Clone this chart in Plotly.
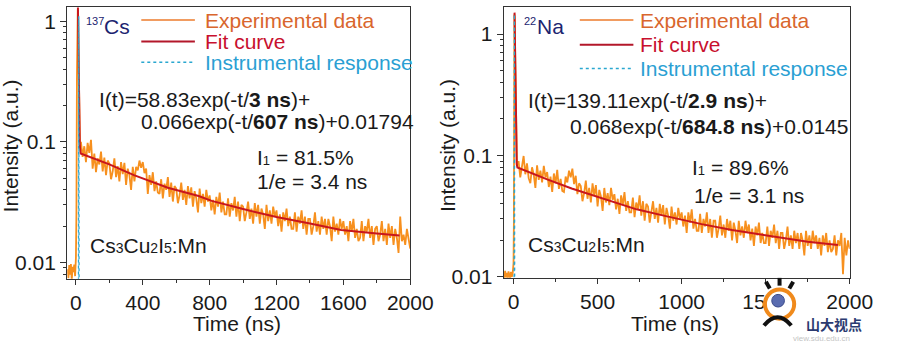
import plotly.graph_objects as go

# ---------------- data ----------------
# Panel A: 137Cs excitation
cs_t_pre = [-50, -45, -40, -35, -30, -25, -20, -15, -10, -5]
cs_y_pre = [0.0088, 0.0074, 0.0095, 0.0079, 0.0097, 0.0071, 0.0092, 0.0083, 0.0096, 0.0077]
cs_t_spike = [0, 3, 6, 9, 11, 13, 15, 17, 19, 21, 24, 27]
cs_y_spike = [0.011, 0.026, 0.35, 1.05, 1.25, 1.1, 0.6, 0.33, 0.19, 0.125, 0.095, 0.09]
# decay part, one value every 10 ns starting at 30 ns
cs_decay = [
    0.100, 0.075, 0.092, 0.068, 0.098, 0.081, 0.104,
    0.060, 0.080, 0.056, 0.073, 0.065, 0.083, 0.057, 0.074, 0.053, 0.070,
    0.066, 0.049, 0.057, 0.073, 0.051, 0.063, 0.047, 0.068, 0.054, 0.067,
    0.044, 0.060, 0.053, 0.040, 0.062, 0.047, 0.062, 0.058, 0.070, 0.061,
    0.068, 0.055, 0.060, 0.037, 0.053, 0.044, 0.056, 0.039, 0.047, 0.038,
    0.037, 0.049, 0.034, 0.045, 0.040, 0.051, 0.035, 0.046, 0.032, 0.043,
    0.041, 0.031, 0.036, 0.046, 0.033, 0.040, 0.030, 0.043, 0.034, 0.042,
    0.029, 0.039, 0.034, 0.026, 0.041, 0.031, 0.037, 0.029, 0.040, 0.032,
    0.036, 0.027, 0.033, 0.025, 0.035, 0.029, 0.038, 0.026, 0.032, 0.025,
    0.025, 0.034, 0.024, 0.031, 0.027, 0.035, 0.024, 0.032, 0.022, 0.030,
    0.029, 0.022, 0.026, 0.032, 0.023, 0.028, 0.021, 0.031, 0.024, 0.030,
    0.021, 0.028, 0.025, 0.019, 0.030, 0.022, 0.027, 0.021, 0.029, 0.024,
    0.027, 0.020, 0.025, 0.018, 0.026, 0.022, 0.028, 0.020, 0.024, 0.019,
    0.019, 0.026, 0.018, 0.024, 0.021, 0.027, 0.019, 0.024, 0.017, 0.023,
    0.023, 0.017, 0.020, 0.026, 0.018, 0.022, 0.017, 0.024, 0.019, 0.023,
    0.017, 0.023, 0.020, 0.015, 0.024, 0.018, 0.021, 0.017, 0.023, 0.019,
    0.022, 0.017, 0.020, 0.015, 0.022, 0.018, 0.023, 0.016, 0.019, 0.015,
    0.016, 0.022, 0.015, 0.020, 0.018, 0.023, 0.016, 0.020, 0.014, 0.019,
    0.020, 0.015, 0.017, 0.022, 0.015, 0.019, 0.014, 0.021, 0.016, 0.020,
    0.014, 0.019, 0.016, 0.012, 0.024, 0.015, 0.017, 0.014, 0.019, 0.015, 0.013,
]
cs_fit_t = [12, 14, 16, 18, 20, 23, 28, 100, 200, 347, 424, 550, 734, 812, 1000, 1122, 1200, 1400, 1587, 1800, 1936]
cs_fit_y = [1.3, 0.72, 0.4, 0.22, 0.135, 0.095, 0.08, 0.073, 0.065, 0.053, 0.0485, 0.0416, 0.0356, 0.0324,
            0.0277, 0.0252, 0.0238, 0.021, 0.0186, 0.0174, 0.0167]
cs_irf_t = [15, 17, 19]
cs_irf_y = [0.004, 1.1, 0.004]

# Panel B: 22Na excitation
na_t_pre = [-60, -55, -50, -45, -40, -35, -30, -25, -20, -15, -10, -5]
na_y_pre = [0.0105, 0.0096, 0.0112, 0.0099, 0.0108, 0.0094, 0.0111, 0.0101, 0.0097, 0.0110, 0.0100, 0.0107]
na_t_spike = [0, 2, 4, 5, 7, 9, 11, 13, 15, 17, 20, 25]
na_y_spike = [0.013, 0.028, 0.6, 1.45, 1.35, 0.8, 0.42, 0.23, 0.14, 0.1, 0.088, 0.084]
na_decay = [
    0.090, 0.066, 0.078, 0.099, 0.070, 0.086, 0.065,
    0.059, 0.080, 0.070, 0.054, 0.083, 0.063, 0.075, 0.060, 0.082, 0.066,
    0.073, 0.055, 0.067, 0.050, 0.071, 0.059, 0.076, 0.053, 0.064, 0.051,
    0.050, 0.067, 0.060, 0.075, 0.066, 0.078, 0.058, 0.068, 0.048, 0.059,
    0.056, 0.042, 0.049, 0.062, 0.044, 0.054, 0.041, 0.059, 0.047, 0.057,
    0.038, 0.052, 0.046, 0.035, 0.054, 0.041, 0.049, 0.039, 0.054, 0.043,
    0.048, 0.036, 0.044, 0.033, 0.047, 0.039, 0.050, 0.035, 0.042, 0.034,
    0.034, 0.045, 0.031, 0.041, 0.036, 0.047, 0.032, 0.042, 0.029, 0.040,
    0.038, 0.028, 0.034, 0.042, 0.030, 0.037, 0.028, 0.040, 0.032, 0.039,
    0.027, 0.037, 0.032, 0.025, 0.038, 0.029, 0.034, 0.027, 0.037, 0.030,
    0.034, 0.026, 0.032, 0.023, 0.034, 0.028, 0.036, 0.025, 0.030, 0.024,
    0.024, 0.033, 0.023, 0.030, 0.026, 0.034, 0.023, 0.030, 0.021, 0.029,
    0.029, 0.021, 0.025, 0.032, 0.022, 0.027, 0.021, 0.030, 0.024, 0.029,
    0.020, 0.028, 0.024, 0.019, 0.029, 0.022, 0.026, 0.021, 0.029, 0.023,
    0.027, 0.020, 0.025, 0.018, 0.026, 0.022, 0.028, 0.019, 0.023, 0.019,
    0.019, 0.026, 0.018, 0.024, 0.021, 0.027, 0.019, 0.024, 0.017, 0.023,
    0.023, 0.017, 0.020, 0.026, 0.018, 0.022, 0.017, 0.024, 0.019, 0.023,
    0.017, 0.023, 0.020, 0.015, 0.024, 0.018, 0.022, 0.017, 0.024, 0.019,
    0.022, 0.017, 0.021, 0.015, 0.022, 0.018, 0.023, 0.016, 0.020, 0.016,
    0.017, 0.022, 0.015, 0.020, 0.018, 0.023, 0.0105, 0.021, 0.015, 0.020, 0.017,
]
na_fit_t = [6, 8, 10, 12, 14, 16, 19, 23, 100, 200, 346, 500, 732, 900, 1119, 1300, 1583, 1750, 1930]
na_fit_y = [1.5, 0.85, 0.45, 0.25, 0.15, 0.105, 0.085, 0.0795, 0.072, 0.0635, 0.0535, 0.0458, 0.036,
            0.0318, 0.0272, 0.0243, 0.021, 0.0195, 0.0183]
na_irf_t = [3, 5, 7]
na_irf_y = [0.004, 1.45, 0.004]

cs_xticks = [0, 400, 800, 1200, 1600, 2000]
cs_xminor = [200, 600, 1000, 1400, 1800]
na_xticks = [0, 500, 1000, 1500, 2000]
na_xminor = [250, 750, 1250, 1750]
y_major = [0.01, 0.1, 1]
y_major_text = ["0.01", "0.1", "1"]
y_minor = [m * d for d in (0.001, 0.01, 0.1) for m in range(2, 10)]

# ---------------- styling ----------------
W, H = 900, 352
FONT = "Liberation Sans, Arial, sans-serif"
FS = 21
C_EXP = "#f7901e"
C_FIT = "#c8161d"
C_IRF = "#2aa7d0"
C_AX = "#333333"


def px(x):
    return x / W


def py(y):
    return 1 - y / H


def decay_times(vals):
    return [30 + 10 * i for i in range(len(vals))]


fig = go.Figure()

panels = [
    (cs_t_pre, cs_y_pre, cs_t_spike, cs_y_spike, cs_decay, cs_fit_t, cs_fit_y, cs_irf_t, cs_irf_y, "x", "y"),
    (na_t_pre, na_y_pre, na_t_spike, na_y_spike, na_decay, na_fit_t, na_fit_y, na_irf_t, na_irf_y, "x2", "y2"),
]
for (tp, yp, ts, ys, yd, ft, fy, it, iy, xa, ya) in panels:
    t_all = tp + ts + decay_times(yd)
    y_all = yp + ys + yd
    fig.add_trace(go.Scatter(x=t_all, y=y_all, mode="lines", line=dict(color=C_EXP, width=1.8),
                             name="Experimental data", showlegend=False, xaxis=xa, yaxis=ya))
    fig.add_trace(go.Scatter(x=ft, y=fy, mode="lines", line=dict(color=C_FIT, width=2),
                             name="Fit curve", showlegend=False, xaxis=xa, yaxis=ya))
    fig.add_trace(go.Scatter(x=it, y=iy, mode="lines", line=dict(color=C_IRF, width=1.3, dash="dot"),
                             name="Instrumental response", showlegend=False, xaxis=xa, yaxis=ya))

common_x = dict(showline=True, mirror=True, linecolor=C_AX, linewidth=1.3, showgrid=False, zeroline=False,
                ticks="outside", ticklen=5, tickwidth=1.2, tickcolor=C_AX,
                tickfont=dict(family=FONT, size=FS, color="#1a1a1a"), tickmode="array")
common_y = dict(type="log", showline=True, mirror=True, linecolor=C_AX, linewidth=1.3, showgrid=False,
                zeroline=False, ticks="outside", ticklen=6, tickwidth=1.2, tickcolor=C_AX,
                tickfont=dict(family=FONT, size=FS, color="#1a1a1a"), tickmode="array",
                tickvals=y_major, ticktext=y_major_text,
                minor=dict(tickmode="array", tickvals=y_minor, ticks="outside", ticklen=3, tickwidth=1,
                           tickcolor=C_AX, showgrid=False))

fig.update_layout(
    width=W, height=H, margin=dict(l=0, r=0, t=0, b=0), autosize=False,
    paper_bgcolor="white", plot_bgcolor="white",
    xaxis=dict(common_x, domain=[px(69), px(421)], range=[-52, 2000], anchor="y",
               tickvals=cs_xticks,
               minor=dict(tickmode="array", tickvals=cs_xminor, ticks="outside", ticklen=3, tickwidth=1,
                          tickcolor=C_AX, showgrid=False)),
    yaxis=dict(common_y, domain=[py(287), py(7)], range=[-2.136, 0.12], anchor="x"),
    xaxis2=dict(common_x, domain=[px(517), px(872)], range=[-58, 2000], anchor="y2",
                tickvals=na_xticks,
                minor=dict(tickmode="array", tickvals=na_xminor, ticks="outside", ticklen=3, tickwidth=1,
                           tickcolor=C_AX, showgrid=False)),
    yaxis2=dict(common_y, domain=[py(286), py(7)], range=[-2.008, 0.224], anchor="x2"),
)

annotations = []
shapes = []


def ann(x, y, text, size=FS, color="#1a1a1a", xanchor="left", angle=0, family=FONT):
    annotations.append(dict(x=px(x), y=py(y), xref="paper", yref="paper", text=text, showarrow=False,
                            xanchor=xanchor, yanchor="middle", textangle=angle,
                            font=dict(family=family, size=size, color=color)))


# axis titles
ann(11, 150, "Intensity (a.u.)", xanchor="center", angle=-90)
ann(459, 150, "Intensity (a.u.)", xanchor="center", angle=-90)
ann(243, 333, "Time (ns)", xanchor="center")
ann(693, 333, "Time (ns)", xanchor="center")

# source labels
NAVY = "#1c2470"
ann(86, 22, "137", size=11, color=NAVY)
ann(105, 27, "Cs", size=FS, color=NAVY)
ann(536, 22, "22", size=11, color=NAVY)
ann(549, 27, "Na", size=FS, color=NAVY)

# legends (drawn per panel)
leg_text_colors = ["#d9662d", "#c8102e", "#2a9fd3"]
leg_labels = ["Experimental data", "Fit curve", "Instrumental response"]
leg_line = [dict(color="#ec7b2c", width=1.5), dict(color="#b3172a", width=2),
            dict(color=C_IRF, width=1.5, dash="dot")]
for (x0, x1, xt, rows) in [(145, 200, 208, [20.7, 42.7, 64]), (595, 650, 655, [20.7, 46, 70.5])]:
    for lbl, col, ln, yy in zip(leg_labels, leg_text_colors, leg_line, rows):
        shapes.append(dict(type="line", xref="paper", yref="paper", x0=px(x0), x1=px(x1),
                           y0=py(yy), y1=py(yy), line=ln))
        ann(xt, yy, lbl, size=FS, color=col)

# equations
ann(100, 102, "I(t)=58.83exp(-t/<b>3 ns</b>)+")
ann(143, 125, "0.066exp(-t/<b>607 ns</b>)+0.01794")
ann(540, 103, "I(t)=139.11exp(-t/<b>2.9 ns</b>)+")
ann(583, 130, "0.068exp(-t/<b>684.8 ns</b>)+0.0145")

sub = "<span style='font-size:13px'>1</span>"
ann(262, 162, "I" + sub + " = 81.5%")
ann(262, 187, "1/e = 3.4 ns")
ann(708, 172, "I" + sub + " = 89.6%")
ann(710, 201, "1/e = 3.1 ns")

mat = ("Cs<span style='font-size:14px'>3</span>Cu<span style='font-size:14px'>2</span>"
       "I<span style='font-size:14px'>5</span>:Mn")
ann(90, 253, mat)
ann(540, 252, mat)

# watermark (logo + text)
shapes.append(dict(type="circle", xref="paper", yref="paper", x0=px(785), x1=px(815), y0=py(328), y1=py(298),
                   fillcolor="white", line=dict(color="#f08a1c", width=4), layer="above"))
shapes.append(dict(type="circle", xref="paper", yref="paper", x0=px(792), x1=px(805), y0=py(316), y1=py(303),
                   fillcolor="#5a6cb0", line=dict(color="#3a4a8a", width=1), layer="above"))
for (a, b, c, d) in [(800, 286, 800, 294), (786, 290, 790, 297), (814, 290, 810, 297)]:
    shapes.append(dict(type="line", xref="paper", yref="paper", x0=px(a), y0=py(b), x1=px(c), y1=py(d),
                       line=dict(color="#111111", width=4), layer="above"))
shapes.append(dict(type="path", xref="paper", yref="paper",
                   path=f"M {px(784)} {py(335)} Q {px(798)} {py(318)} {px(812)} {py(335)}",
                   line=dict(color="#111111", width=4), layer="above"))
ann(856, 333, "<b>山大视点</b>", size=14, color="#2b3a70", xanchor="center", family="Noto Sans CJK SC")
ann(843, 348, "view.sdu.edu.cn", size=8, color="#c4c4c4", xanchor="center")

fig.update_layout(annotations=annotations, shapes=shapes)
fig.write_html("out.html")
